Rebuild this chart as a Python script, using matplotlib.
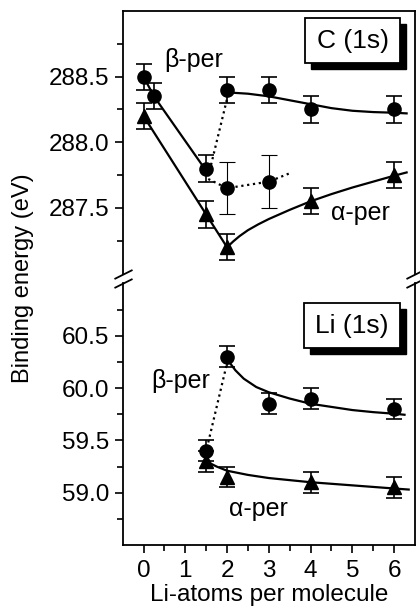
import numpy as np
import matplotlib.pyplot as plt
from matplotlib.patches import Rectangle

plt.rcParams.update({'font.size': 17, 'font.family': ['Liberation Sans', 'DejaVu Sans']})

# --- C (1s) data ---
c_beta_x = [0, 0.25, 1.5, 2, 3, 4, 6]
c_beta_y = [288.5, 288.35, 287.8, 288.4, 288.4, 288.25, 288.25]
c_beta_err = [0.1, 0.1, 0.1, 0.1, 0.1, 0.1, 0.1]

c_beta2_x = [2, 3]
c_beta2_y = [287.65, 287.7]
c_beta2_err = [0.2, 0.2]

c_alpha_x = [0, 1.5, 2, 4, 6]
c_alpha_y = [288.2, 287.45, 287.2, 287.55, 287.75]
c_alpha_err = [0.1, 0.1, 0.1, 0.1, 0.1]

# guide lines
c_beta_fit1_x = [0, 0.25, 1.55]
c_beta_fit1_y = [288.5, 288.35, 287.76]
c_beta_fit2_x = [2.0, 2.5, 3.0, 3.5, 4.0, 4.5, 5.0, 5.5, 6.0, 6.3]
c_beta_fit2_y = [288.38, 288.37, 288.35, 288.32, 288.29, 288.26, 288.24, 288.23, 288.225, 288.22]
c_alpha_fit_x = [0, 2.0, 2.15, 2.3, 2.5, 2.75, 3.0, 3.5, 4.0, 4.5, 5.0, 5.5, 6.0, 6.3]
c_alpha_fit_y = [288.2, 287.2, 287.245, 287.285, 287.33, 287.375, 287.415, 287.485,
                 287.55, 287.605, 287.655, 287.7, 287.745, 287.77]
c_dot1_x = [1.55, 2.0]
c_dot1_y = [287.74, 288.33]
c_dot2_x = [1.55, 2.0, 3.0, 3.55]
c_dot2_y = [287.72, 287.65, 287.7, 287.77]

# --- Li (1s) data ---
li_beta_x = [1.5, 2, 3, 4, 6]
li_beta_y = [59.4, 60.3, 59.85, 59.9, 59.8]
li_beta_err = [0.1, 0.1, 0.1, 0.1, 0.1]

li_alpha_x = [1.5, 2, 4, 6]
li_alpha_y = [59.3, 59.15, 59.1, 59.05]
li_alpha_err = [0.1, 0.1, 0.1, 0.1]

li_beta_fit_x = [2.05, 2.2, 2.4, 2.7, 3.0, 3.5, 4.0, 4.5, 5.0, 5.5, 6.0, 6.25]
li_beta_fit_y = [60.25, 60.17, 60.09, 60.01, 59.96, 59.9, 59.85, 59.82, 59.79, 59.77, 59.755, 59.745]
li_alpha_fit_x = [1.5, 1.75, 2.0, 2.5, 3.0, 3.5, 4.0, 4.5, 5.0, 5.5, 6.0, 6.35]
li_alpha_fit_y = [59.3, 59.25, 59.21, 59.17, 59.14, 59.12, 59.1, 59.085, 59.07, 59.055, 59.04, 59.03]
li_dot_x = [1.55, 2.0]
li_dot_y = [59.48, 60.24]

fig = plt.figure(figsize=(4.2, 6.12), dpi=100)
ax_top = fig.add_axes([0.292, 0.5531, 0.696, 0.4289])
ax_bot = fig.add_axes([0.292, 0.1095, 0.696, 0.4273])

eb = dict(fmt='none', ecolor='black', elinewidth=1.2, capsize=6, capthick=1.2, zorder=3)
thin = dict(fmt='none', ecolor='black', elinewidth=0.8, capsize=6, capthick=0.8, zorder=3)

# top panel
ax_top.plot(c_beta_fit1_x, c_beta_fit1_y, '-', color='black', lw=1.6)
ax_top.plot(c_beta_fit2_x, c_beta_fit2_y, '-', color='black', lw=1.6)
ax_top.plot(c_alpha_fit_x, c_alpha_fit_y, '-', color='black', lw=1.6)
ax_top.plot(c_dot1_x, c_dot1_y, ':', color='black', lw=1.6)
ax_top.plot(c_dot2_x, c_dot2_y, ':', color='black', lw=1.6)
ax_top.errorbar(c_beta_x, c_beta_y, yerr=c_beta_err, **eb)
ax_top.errorbar(c_beta2_x, c_beta2_y, yerr=c_beta2_err, **thin)
ax_top.errorbar(c_alpha_x, c_alpha_y, yerr=c_alpha_err, **eb)
ax_top.plot(c_beta_x, c_beta_y, 'o', color='black', ms=9.5, zorder=4)
ax_top.plot(c_beta2_x, c_beta2_y, 'o', color='black', ms=9.5, zorder=4)
ax_top.plot(c_alpha_x, c_alpha_y, '^', color='black', ms=10.5, zorder=4)
ax_top.text(1.2, 288.63, 'β-per', ha='center', va='center', fontsize=18)
ax_top.text(5.2, 287.46, 'α-per', ha='center', va='center', fontsize=18)

# bottom panel
ax_bot.plot(li_beta_fit_x, li_beta_fit_y, '-', color='black', lw=1.6)
ax_bot.plot(li_alpha_fit_x, li_alpha_fit_y, '-', color='black', lw=1.6)
ax_bot.plot(li_dot_x, li_dot_y, ':', color='black', lw=1.6)
ax_bot.errorbar(li_beta_x, li_beta_y, yerr=li_beta_err, **eb)
ax_bot.errorbar(li_alpha_x, li_alpha_y, yerr=li_alpha_err, **eb)
ax_bot.plot(li_beta_x, li_beta_y, 'o', color='black', ms=9.5, zorder=4)
ax_bot.plot(li_alpha_x, li_alpha_y, '^', color='black', ms=10.5, zorder=4)
ax_bot.text(0.9, 60.07, 'β-per', ha='center', va='center', fontsize=18)
ax_bot.text(2.75, 58.84, 'α-per', ha='center', va='center', fontsize=18)

for ax in (ax_top, ax_bot):
    ax.set_xlim(-0.5, 6.5)
    for s in ax.spines.values():
        s.set_linewidth(1.3)
    ax.tick_params(which='both', direction='out', width=1.2, right=False, top=False,
                   labelsize=17.5)
    ax.tick_params(which='major', length=6)
    ax.tick_params(which='minor', length=4)

ax_top.set_ylim(287.0, 289.0)
ax_top.set_yticks([287.5, 288.0, 288.5])
ax_top.set_yticks([287.25, 287.75, 288.25, 288.75], minor=True)
ax_top.spines['bottom'].set_visible(False)
ax_top.tick_params(which='both', bottom=False, labelbottom=False)

ax_bot.set_ylim(58.5, 61.0)
ax_bot.set_yticks([59.0, 59.5, 60.0, 60.5])
ax_bot.set_yticks([58.75, 59.25, 59.75, 60.25, 60.75], minor=True)
ax_bot.spines['top'].set_visible(False)
ax_bot.set_xticks(range(7))
ax_bot.set_xticks(np.arange(0.5, 6.5, 1.0), minor=True)
ax_bot.tick_params(axis='x', which='major', pad=5)
ax_bot.set_xlabel('Li-atoms per molecule', labelpad=1, fontsize=17.5)
ax_top.yaxis.set_major_formatter(plt.FormatStrFormatter('%.1f'))
ax_bot.yaxis.set_major_formatter(plt.FormatStrFormatter('%.1f'))

fig.text(0.055, 0.545, 'Binding energy (eV)', rotation=90, ha='center', va='center')

# axis break marks
kw = dict(marker=[(-1, -0.5), (1, 0.5)], markersize=13, linestyle='none',
          color='black', mec='black', mew=1.3, clip_on=False)
ax_top.plot([0, 1], [0, 0], transform=ax_top.transAxes, **kw)
ax_bot.plot([0, 1], [1, 1], transform=ax_bot.transAxes, **kw)

# label boxes with drop shadow
def shadow_box(ax, x0, y0, w, h, label):
    ax.add_patch(Rectangle((x0 + 0.022, y0 - 0.023), w, h, transform=ax.transAxes,
                           facecolor='black', edgecolor='black', zorder=5))
    ax.add_patch(Rectangle((x0, y0), w, h, transform=ax.transAxes,
                           facecolor='white', edgecolor='black', lw=1.3, zorder=6))
    ax.text(x0 + w / 2, y0 + h / 2, label, transform=ax.transAxes,
            ha='center', va='center', fontsize=19, zorder=7)

shadow_box(ax_top, 0.624, 0.802, 0.325, 0.171, 'C (1s)')
shadow_box(ax_bot, 0.62, 0.753, 0.329, 0.172, 'Li (1s)')

fig.savefig('out.png', dpi=100)
